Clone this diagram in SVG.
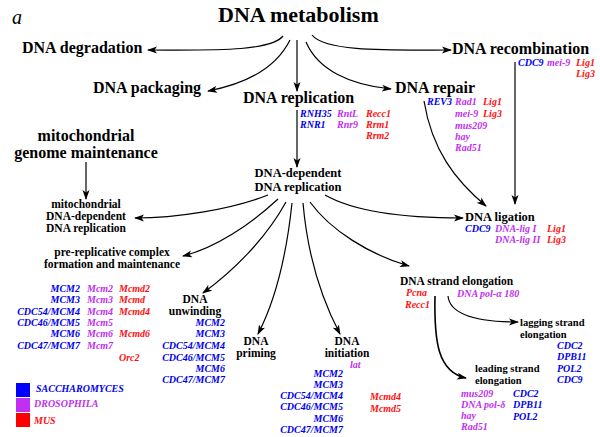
<svg xmlns="http://www.w3.org/2000/svg" width="600" height="437" viewBox="0 0 600 437">
<defs>
<marker id="ah" markerWidth="10" markerHeight="8" refX="9" refY="4" orient="auto" markerUnits="userSpaceOnUse">
<path d="M0,0.5 L10,4 L0,7.5 L2.5,4 z" fill="#000"/>
</marker>
<style>
.t{font-family:"Liberation Serif","Times New Roman",serif;font-weight:bold;fill:#000}
.big{font-size:16px}
.mid{font-size:12.5px}
.sm{font-size:11.5px}
.xs{font-size:10.5px}
.g{font-family:"Liberation Serif","Times New Roman",serif;font-weight:bold;font-style:italic;font-size:10px}
.b{fill:#0000ee}
.p{fill:#c030f0}
.r{fill:#ff1010}
.e{text-anchor:end}
.c{text-anchor:middle}
.cn path{fill:none;stroke:#000;stroke-width:1.2;marker-end:url(#ah)}
</style>
</defs>
<rect width="600" height="437" fill="#fff"/>
<text x="12" y="24" style="font-family:'Liberation Serif',serif;font-style:italic;font-size:20px">a</text>

<g id="metabolism"><text class="t" x="218" y="22" style="font-size:22px">DNA metabolism</text></g>
<g id="degradation"><text class="t big" x="22" y="53">DNA degradation</text></g>
<g id="packaging"><text class="t big" x="93" y="93">DNA packaging</text></g>
<g id="replication"><text class="t big" x="243" y="103">DNA replication</text>
<text class="g b" x="300" y="117">RNH35</text><text class="g p" x="337" y="117">RntL</text><text class="g r" x="366" y="117">Recc1</text>
<text class="g b" x="300" y="128">RNR1</text><text class="g p" x="337" y="128">Rnr9</text><text class="g r" x="366" y="128">Rrm1</text>
<text class="g r" x="366" y="139">Rrm2</text></g>
<g id="recombination"><text class="t big" x="452" y="54">DNA recombination</text>
<text class="g b" x="518" y="66">CDC9</text><text class="g p" x="547" y="66">mei-9</text><text class="g r" x="576" y="66">Lig1</text>
<text class="g r" x="576" y="77">Lig3</text></g>
<g id="repair"><text class="t big" x="395" y="93">DNA repair</text>
<text class="g b" x="427" y="105">REV3</text><text class="g p" x="455" y="105">Rad1</text><text class="g r" x="483" y="105">Lig1</text>
<text class="g p" x="455" y="117">mei-9</text><text class="g r" x="483" y="117">Lig3</text>
<text class="g p" x="455" y="129">mus209</text>
<text class="g p" x="455" y="140">hay</text>
<text class="g p" x="455" y="151">Rad51</text></g>
<g id="mito-genome"><text class="t big c" x="86" y="141">mitochondrial</text><text class="t big c" x="86" y="158">genome maintenance</text></g>
<g id="dna-dependent"><text class="t mid c" x="298" y="177">DNA-dependent</text><text class="t mid c" x="298" y="191">DNA replication</text></g>
<g id="mito-replication"><text class="t sm c" x="86" y="208">mitochondrial</text><text class="t sm c" x="86" y="220">DNA-dependent</text><text class="t sm c" x="86" y="232">DNA replication</text></g>
<g id="ligation"><text class="t mid" x="465" y="221">DNA ligation</text>
<text class="g b" x="465" y="232">CDC9</text><text class="g p" x="495" y="232">DNA-lig I</text><text class="g r" x="547" y="232">Lig1</text>
<text class="g p" x="495" y="243">DNA-lig II</text><text class="g r" x="547" y="243">Lig3</text></g>
<g id="pre-replicative"><text class="t sm c" x="112" y="256">pre-replicative complex</text><text class="t sm c" x="112" y="268">formation and maintenance</text>
<text class="g b e" x="80" y="292">MCM2</text><text class="g p" x="87" y="292">Mcm2</text><text class="g r" x="119" y="292">Mcmd2</text>
<text class="g b e" x="80" y="303">MCM3</text><text class="g p" x="87" y="303">Mcm3</text><text class="g r" x="119" y="303">Mcmd</text>
<text class="g b e" x="80" y="315">CDC54/MCM4</text><text class="g p" x="87" y="315">Mcm4</text><text class="g r" x="119" y="315">Mcmd4</text>
<text class="g b e" x="80" y="326">CDC46/MCM5</text><text class="g p" x="87" y="326">Mcm5</text>
<text class="g b e" x="80" y="337">MCM6</text><text class="g p" x="87" y="337">Mcm6</text><text class="g r" x="119" y="337">Mcmd6</text>
<text class="g b e" x="80" y="349">CDC47/MCM7</text><text class="g p" x="87" y="349">Mcm7</text>
<text class="g r" x="119" y="361">Orc2</text></g>
<g id="unwinding"><text class="t sm c" x="195" y="303">DNA</text><text class="t sm c" x="195" y="315">unwinding</text>
<text class="g b e" x="225" y="326">MCM2</text>
<text class="g b e" x="225" y="337">MCM3</text>
<text class="g b e" x="225" y="349">CDC54/MCM4</text>
<text class="g b e" x="225" y="361">CDC46/MCM5</text>
<text class="g b e" x="225" y="372">MCM6</text>
<text class="g b e" x="225" y="383">CDC47/MCM7</text></g>
<g id="priming"><text class="t sm c" x="256" y="345">DNA</text><text class="t sm c" x="256" y="357">priming</text></g>
<g id="initiation"><text class="t sm c" x="347" y="345">DNA</text><text class="t sm c" x="347" y="357">initiation</text>
<text class="g p" x="350" y="368">lat</text>
<text class="g b e" x="343" y="377">MCM2</text>
<text class="g b e" x="343" y="388">MCM3</text>
<text class="g b e" x="343" y="399">CDC54/MCM4</text><text class="g r" x="370" y="400">Mcmd4</text>
<text class="g b e" x="343" y="410">CDC46/MCM5</text><text class="g r" x="370" y="412">Mcmd5</text>
<text class="g b e" x="343" y="422">MCM6</text>
<text class="g b e" x="343" y="433">CDC47/MCM7</text></g>
<g id="strand-elongation"><text class="t sm" x="400" y="285">DNA strand elongation</text>
<text class="g r" x="406" y="296">Pcna</text><text class="g p" x="457" y="297">DNA pol-α 180</text>
<text class="g r" x="405" y="308">Recc1</text></g>
<g id="lagging"><text class="t xs" x="520" y="326">lagging strand</text><text class="t xs" x="520" y="338">elongation</text>
<text class="g b" x="557" y="349">CDC2</text>
<text class="g b" x="557" y="360">DPB11</text>
<text class="g b" x="557" y="372">POL2</text>
<text class="g b" x="557" y="383">CDC9</text></g>
<g id="leading"><text class="t xs" x="475" y="372">leading strand</text><text class="t xs" x="475" y="384">elongation</text>
<text class="g p" x="461" y="397">mus209</text><text class="g b" x="513" y="397">CDC2</text>
<text class="g p" x="461" y="408">DNA pol-δ</text><text class="g b" x="513" y="408">DPB11</text>
<text class="g p" x="461" y="419">hay</text><text class="g b" x="513" y="420">POL2</text>
<text class="g p" x="461" y="430">Rad51</text></g>
<g id="legend">
<rect x="16" y="383" width="14" height="14" fill="#0000ff"/>
<rect x="16" y="398" width="14" height="14" fill="#c030f0"/>
<rect x="16" y="413" width="14" height="14" fill="#ff0000"/>
<text class="g b" x="36" y="392">SACCHAROMYCES</text>
<text class="g p" x="34" y="407">DROSOPHILA</text>
<text class="g r" x="34" y="424">MUS</text></g>

<g id="connectors" class="cn">
<path d="M283,36 C270,52 210,50 148,50"/>
<path d="M290,40 C276,68 245,84 208,91"/>
<path d="M297,40 L297,91"/>
<path d="M312,35 C325,52 390,50 451,50"/>
<path d="M306,42 C318,70 350,85 391,89"/>
<path d="M297,110 L297,167"/>
<path d="M515,62 L515,204"/>
<path d="M424,101 C432,150 455,180 486,206"/>
<path d="M86,162 L86,199"/>
<path d="M268,195 C230,210 175,218 135,218"/>
<path d="M278,199 C250,225 215,248 183,256"/>
<path d="M286,202 C265,240 232,272 203,293"/>
<path d="M292,203 C286,260 273,305 258,334"/>
<path d="M303,203 C308,260 322,300 340,334"/>
<path d="M310,202 C330,230 370,255 409,266"/>
<path d="M325,195 C360,215 420,218 463,218"/>
<path d="M435,296 C434,342 438,372 466,378" style="stroke-width:1.6"/>
<path d="M448,296 C450,316 480,322 518,322"/>
</g>
</svg>
